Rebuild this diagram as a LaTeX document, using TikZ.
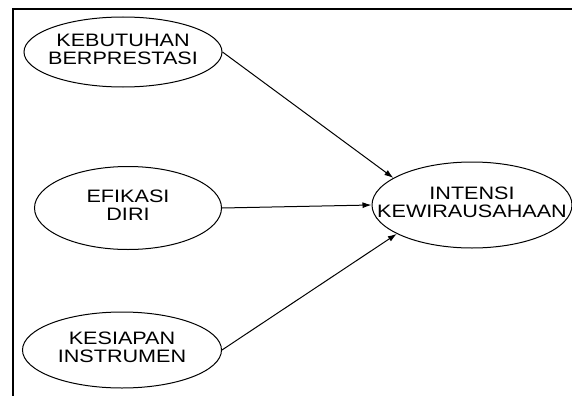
\documentclass[tikz,border=0pt]{standalone}
\usepackage{fontspec}
\setmainfont{Liberation Sans}
\usetikzlibrary{shapes.geometric,arrows.meta}
% two centred lines of widened capitals
\newcommand\widetext[1]{\scalebox{1.2}[1]{\begin{tabular}{@{}c@{}}#1\end{tabular}}}
\begin{document}
\begin{tikzpicture}[x=1pt,y=-1pt,
  construct/.style={ellipse,draw,line width=1pt,inner sep=0pt},
  caption/.style={font=\fontsize{18}{18.5}\selectfont,inner sep=0pt},
  link/.style={draw,line width=1pt,-{Latex[length=9pt,width=6pt]}}]
\useasboundingbox (0,0) rectangle (572,396);
% frame
\draw[line width=1.3pt] (572,9) -- (13,9) -- (13,396);
% constructs
\node[construct,minimum width=198pt,minimum height=70pt,
  label={[caption,name=kbt]center:\widetext{KEBUTUHAN\\BERPRESTASI}}] (kb) at (123,52) {};
\node[construct,minimum width=187pt,minimum height=83pt,
  label={[caption,name=edt]center:\widetext{EFIKASI\\DIRI}}] (ed) at (128,208) {};
\node[construct,minimum width=199pt,minimum height=76pt,
  label={[caption,name=kit]center:\widetext{KESIAPAN\\INSTRUMEN}}] (ki) at (122,350) {};
\node[construct,minimum width=200pt,minimum height=86pt,
  label={[caption,name=ikt]center:\widetext{INTENSI\\KEWIRAUSAHAAN}}] (ik) at (472,205) {};
% paths
\draw[link] (kb.east) -- (ik.161);
\draw[link] (ed.east) -- (ik.west);
\draw[link] (ki.east) -- (ik.201);
\end{tikzpicture}
\end{document}
